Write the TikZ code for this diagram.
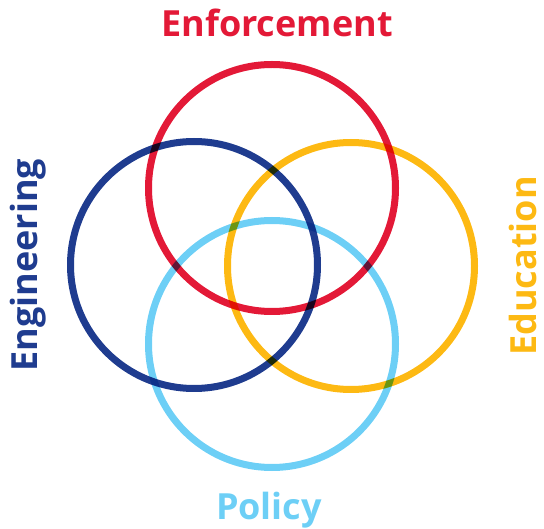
\documentclass[tikz,border=0pt]{standalone}
\usepackage{fontspec}
\setmainfont{Open Sans}
\definecolor{cred}{HTML}{E31937}
\definecolor{cdblue}{HTML}{1F3C8F}
\definecolor{cyellow}{HTML}{FDB913}
\definecolor{clblue}{HTML}{6DCFF6}
\begin{document}
\begin{tikzpicture}[x=1pt,y=-1pt,
  ring/.style={line width=7pt,blend mode=multiply},
  lab/.style={font=\fontsize{36}{40}\selectfont\bfseries,inner sep=0pt}]
\useasboundingbox (0,0) rectangle (544,529);
\coordinate (cR) at (272,188);
\coordinate (cB) at (194,265);
\coordinate (cY) at (351,266);
\coordinate (cL) at (272,344);
\begin{scope}[transparency group]
\draw[ring,cred] (cR) circle[radius=123.5];
\draw[ring,cdblue] (cB) circle[radius=123.5];
\draw[ring,cyellow] (cY) circle[radius=123.5];
\draw[ring,clblue] (cL) circle[radius=123.5];
\end{scope}
\node[lab,text=cred] (enf) at (277,23) {Enforcement};
\node[lab,text=cdblue,rotate=90] (eng) at (28,265) {Engineering};
\node[lab,text=cyellow,rotate=90] (edu) at (523,266) {Education};
\node[lab,text=clblue] (pol) at (269,510) {Policy};
\end{tikzpicture}
\end{document}
